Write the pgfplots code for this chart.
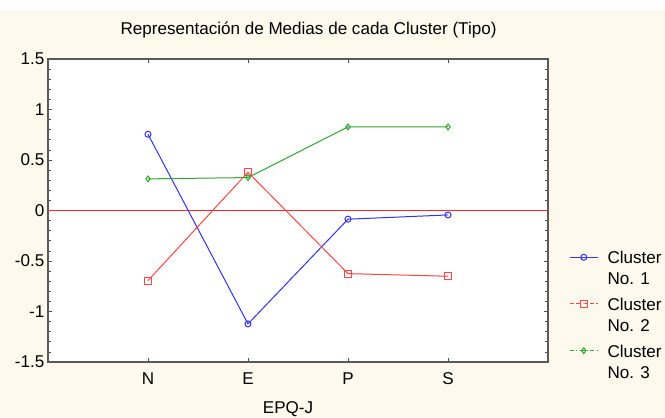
\documentclass[border=0pt]{standalone}
\usepackage{fontspec}
\setmainfont{Liberation Sans}
\usepackage{pgfplots}
\pgfplotsset{compat=1.18}
\definecolor{bgcream}{RGB}{253,249,237}
\definecolor{cblue}{RGB}{50,50,255}
\definecolor{cred}{RGB}{255,70,70}
\definecolor{cgreen}{RGB}{50,165,50}
\definecolor{zred}{RGB}{255,40,40}
\pgfplotsset{
  leg dashed/.style={legend image code/.code={\draw[mark repeat=2,mark phase=2,##1,densely dashed,yshift=9pt] plot coordinates {(0pt,0pt) (10.5pt,0pt) (21pt,0pt)};}},
  leg dashdot/.style={legend image code/.code={\draw[mark repeat=2,mark phase=2,##1,dashdotted,yshift=9pt] plot coordinates {(0pt,0pt) (10.5pt,0pt) (21pt,0pt)};}},
  leg solid/.style={legend image code/.code={\draw[mark repeat=2,mark phase=2,##1,yshift=9pt] plot coordinates {(0pt,0pt) (10.5pt,0pt) (21pt,0pt)};}},
}
\begin{document}
\begin{tikzpicture}
\fill[bgcream] (0pt,0pt) rectangle (498.75pt,306pt);
\node[anchor=base, inner sep=0pt, font=\fontsize{12.8}{15}\selectfont] at (231.4pt,287.25pt) {Representación de Medias de cada Cluster (Tipo)};
\begin{axis}[
  at={(36pt,42pt)}, anchor=south west,
  scale only axis, width=375pt, height=227.25pt,
  xmin=-1, xmax=4, ymin=-1.5, ymax=1.5,
  xtick={0,1,2,3}, xticklabels={N,E,P,S},
  ytick={-1.5,-1,-0.5,0,0.5,1,1.5},
  yticklabels={-1.5,-1,-0.5,0,0.5,1,1.5},
  minor y tick num=4,
  tick align=inside, tick pos=both,
  major tick length=3pt, minor tick length=2pt,
  tick style={black!70, line width=0.5pt},
  axis line style={draw=black!65, line width=1pt},
  axis background/.style={fill=white},
  tick label style={font=\fontsize{12.8}{15}\selectfont},
  xticklabel style={anchor=base, inner sep=0pt, yshift=-17.25pt},
  yticklabel style={anchor=east, inner sep=0pt, xshift=-2.5pt},
  xlabel={EPQ-J},
  xlabel style={at={(axis description cs:0.48,0)}, anchor=base, inner sep=0pt, yshift=-39pt, font=\fontsize{12.8}{15}\selectfont},
  clip=false,
  legend style={at={(axis description cs:1.042,0.374)}, anchor=north west, draw=none, fill=none, inner sep=0pt, row sep=4.5pt, column sep=5pt, align=left, font=\fontsize{12.8}{15.75}\selectfont},
  legend cell align=left,
]
\addplot[zred, line width=1.2pt, forget plot] coordinates {(-1,0) (4,0)};
\addplot[cblue, line width=0.75pt, mark=o, mark size=2.25pt, mark options={solid}, leg solid] coordinates {(0,0.755) (1,-1.123) (2,-0.086) (3,-0.044)};
\addlegendentry{Cluster\\No. 1}
\addplot[cred, line width=0.75pt, mark=square, mark size=2.6pt, mark options={solid}, leg dashed] coordinates {(0,-0.694) (1,0.379) (2,-0.625) (3,-0.651)};
\addlegendentry{Cluster\\No. 2}
\addplot[cgreen, line width=0.75pt, mark=diamond, mark size=2.2pt, mark options={solid}, leg dashdot] coordinates {(0,0.313) (1,0.326) (2,0.828) (3,0.828)};
\addlegendentry{Cluster\\No. 3}
\end{axis}
\pgfresetboundingbox
\path (0pt,0pt) rectangle (498.75pt,313.5pt);
\end{tikzpicture}
\end{document}
